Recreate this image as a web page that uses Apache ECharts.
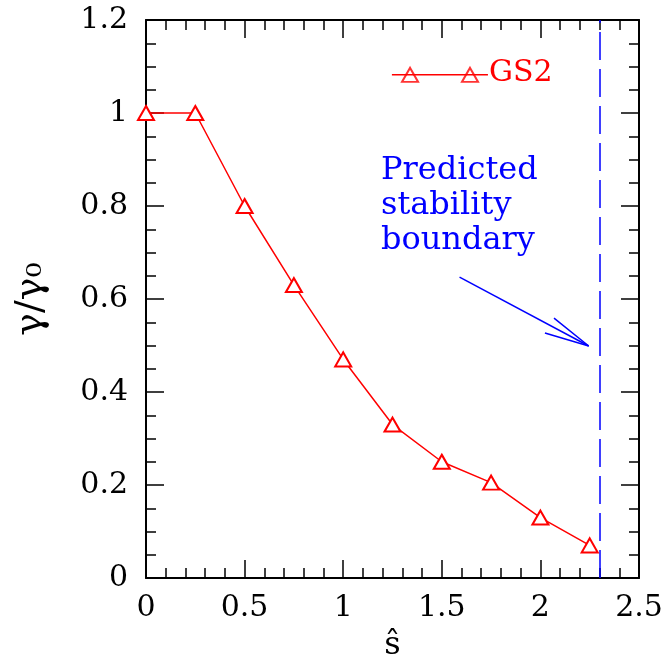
<!DOCTYPE html>
<html>
<head>
<meta charset="utf-8">
<script src="https://cdn.jsdelivr.net/npm/echarts@6/dist/echarts.min.js"></script>
<style>
  html, body { margin: 0; padding: 0; background: #fff; }
  #main { width: 664px; height: 662px; }
</style>
</head>
<body>
<div id="main"></div>
<script>
// shear values and growth rate ratio (GS2)
const shear = [0, 0.25, 0.5, 0.75, 1, 1.25, 1.5, 1.75, 2, 2.25]
const gammaRatio = [1, 1, 0.8, 0.63, 0.47, 0.33, 0.25, 0.205, 0.13, 0.07]
const boundaryX = 2.3

// annotation pieces, in data units
const legendLine = [[1.247, 1.082], [1.734, 1.082]]
const legendMarks = [[1.339, 1.082], [1.643, 1.082]]
const arrowShaft = [[1.59, 0.647], [2.245, 0.499]]
const arrowHead = [[2.069, 0.559], [2.245, 0.499], [2.023, 0.527]]

const FONT = 'DejaVu Serif'
const chart = echarts.init(document.getElementById('main'))

const axisBase = {
    type: 'value',
    splitLine: { show: false },
    axisLine: { onZero: false, lineStyle: { color: '#000', width: 2 } },
    axisTick: { inside: true, length: 18, lineStyle: { color: '#000', width: 1.5 } },
    minorTick: { show: true, length: 10, lineStyle: { color: '#000', width: 1.5 } },
}

chart.setOption({
    animation: false,
    grid: { left: 146, right: 25, top: 20, bottom: 84, outerBoundsMode: 'none', containLabel: false },
    xAxis: [
        Object.assign({}, axisBase, {
            min: 0, max: 2.5, interval: 0.5, position: 'bottom',
            minorTick: Object.assign({}, axisBase.minorTick, { splitNumber: 5 }),
            axisLabel: { color: '#000', fontFamily: FONT, fontSize: 30, margin: 15 },
            name: 'ŝ', nameLocation: 'middle', nameGap: 52,
            nameTextStyle: { color: '#000', fontFamily: FONT, fontSize: 32 }
        }),
        Object.assign({}, axisBase, {
            min: 0, max: 2.5, interval: 0.5, position: 'top',
            minorTick: Object.assign({}, axisBase.minorTick, { splitNumber: 5 }),
            axisLabel: { show: false }
        })
    ],
    yAxis: [
        Object.assign({}, axisBase, {
            min: 0, max: 1.2, interval: 0.2, position: 'left',
            minorTick: Object.assign({}, axisBase.minorTick, { splitNumber: 4 }),
            axisLabel: { color: '#000', fontFamily: FONT, fontSize: 30, margin: 18 },
            name: 'γ/γ₀', nameLocation: 'middle', nameGap: 96, nameRotate: 90,
            nameTextStyle: { color: '#000', fontFamily: FONT, fontSize: 38 }
        }),
        Object.assign({}, axisBase, {
            min: 0, max: 1.2, interval: 0.2, position: 'right',
            minorTick: Object.assign({}, axisBase.minorTick, { splitNumber: 4 }),
            axisLabel: { show: false }
        })
    ],
    series: [
        {
            name: 'GS2',
            type: 'line',
            data: shear.map((s, i) => [s, gammaRatio[i]]),
            symbol: 'emptyTriangle',
            symbolSize: [16, 14],
            itemStyle: { color: '#ff0000', borderWidth: 1.5 },
            lineStyle: { color: '#ff0000', width: 1.5 },
            markLine: {
                silent: true,
                symbol: 'none',
                label: { show: false },
                lineStyle: { color: '#0000ff', type: [28, 9], width: 1.5 },
                data: [{ xAxis: boundaryX }]
            }
        },
        {
            type: 'line', data: legendLine, symbol: 'none',
            lineStyle: { color: '#ff0000', width: 1.5 }, silent: true
        },
        {
            type: 'scatter', data: legendMarks, symbol: 'emptyTriangle', symbolSize: [16, 14],
            itemStyle: { color: '#ff0000', borderWidth: 1.5 }, silent: true
        },
        {
            type: 'line', data: arrowShaft, symbol: 'none',
            lineStyle: { color: '#0000ff', width: 1.5 }, silent: true
        },
        {
            type: 'line', data: arrowHead, symbol: 'none',
            lineStyle: { color: '#0000ff', width: 1.5 }, silent: true
        }
    ],
    graphic: [
        {
            type: 'text', left: 489, top: 58,
            style: { text: 'GS2', fill: '#ff0000', font: '30px "' + FONT + '"' }
        },
        {
            type: 'text', left: 381, top: 153,
            style: {
                text: 'Predicted\nstability\nboundary', fill: '#0000ff',
                font: '32px "' + FONT + '"', lineHeight: 35
            }
        }
    ]
})
</script>
</body>
</html>
